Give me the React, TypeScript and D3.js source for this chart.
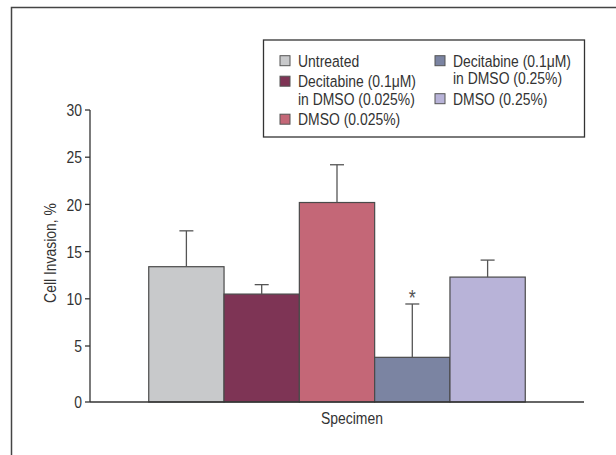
import React from 'react'
import { scaleBand, scaleLinear } from 'd3'

const categories = [
  'Untreated',
  'Decitabine (0.1μM) in DMSO (0.025%)',
  'DMSO (0.025%)',
  'Decitabine (0.1μM) in DMSO (0.25%)',
  'DMSO (0.25%)',
]
const means = [13.4, 10.5, 20.2, 3.8, 12.3]
const errTops = [17.2, 11.5, 24.2, 9.45, 14.1]
const colors = ['#c8c9cb', '#7e3455', '#c46777', '#7b84a2', '#b8b3d8']
const yTicks = [0, 5, 10, 15, 20, 25, 30]
const starred = [false, false, false, true, false]

// legend: label lines per item, and which column it sits in
const legendLines = [
  ['Untreated'],
  ['Decitabine (0.1μM)', 'in DMSO (0.025%)'],
  ['DMSO (0.025%)'],
  ['Decitabine (0.1μM)', 'in DMSO (0.25%)'],
  ['DMSO (0.25%)'],
]
const legendCol = [0, 0, 0, 1, 1]

const FONT = '"Liberation Sans", Arial, sans-serif'
const SX = 0.82 // fake a condensed face

function Txt({ x, y, size = 17, anchor = 'start', rotate = 0, dy = '0', fill = '#333', children }: any) {
  return (
    <text
      transform={`translate(${x},${y}) rotate(${rotate}) scale(${SX},1)`}
      textAnchor={anchor}
      dy={dy}
      fontSize={size}
      fill={fill}
      fontFamily={FONT}
    >
      {children}
    </text>
  )
}

export default function App() {
  const width = 616,
    height = 455
  const left = 90,
    right = 584,
    top = 110,
    base = 402

  const x = scaleBand().domain(categories).range([left, right]).paddingInner(0).paddingOuter(0.78)
  const y = scaleLinear().domain([5, 30]).range([346, top])
  const yPos = (v: number) => (v === 0 ? base : y(v))

  // legend layout
  const lineH = 17.5
  const gap = 3
  const colX = [280, 435]
  const rowY = [0, 0]
  const legendItems = legendLines.map((lines, i) => {
    const c = legendCol[i]
    const y0 = 60.7 + rowY[c]
    rowY[c] += lines.length * lineH + gap
    return { lines, c, y0, color: colors[i] }
  })

  return (
    <svg width={width} height={height} style={{ position: 'absolute', left: 0, top: 0, background: '#fff' }}>
      {/* frame */}
      <path d={`M11.5,${height} V7.5 H${width}`} fill="none" stroke="#444" strokeWidth={1.5} />

      {/* bars */}
      {categories.map((c, i) => (
        <rect
          key={c}
          x={x(c)}
          y={yPos(means[i])}
          width={x.bandwidth()}
          height={base - yPos(means[i])}
          fill={colors[i]}
          stroke="#4a4a4a"
          strokeWidth={1.2}
        />
      ))}

      {/* error bars */}
      {categories.map((c, i) => {
        const cx = (x(c) as number) + x.bandwidth() / 2
        return (
          <g key={'e' + c} stroke="#555" strokeWidth={1.3}>
            <line x1={cx} x2={cx} y1={yPos(means[i])} y2={yPos(errTops[i])} />
            <line x1={cx - 7} x2={cx + 7} y1={yPos(errTops[i])} y2={yPos(errTops[i])} />
          </g>
        )
      })}
      {categories.map((c, i) =>
        starred[i] ? (
          <Txt key={'s' + c} x={(x(c) as number) + x.bandwidth() / 2} y={yPos(errTops[i]) + 1} anchor="middle" size={22} fill="#555">
            *
          </Txt>
        ) : null
      )}

      {/* axes */}
      <line x1={left} x2={right} y1={base} y2={base} stroke="#333" strokeWidth={1.3} />
      <line x1={left} x2={left} y1={top} y2={base} stroke="#333" strokeWidth={1.3} />
      {yTicks.map(t => (
        <g key={t}>
          <line x1={left - 5} x2={left} y1={yPos(t)} y2={yPos(t)} stroke="#333" strokeWidth={1.3} />
          <Txt x={left - 8} y={yPos(t)} dy="0.36em" anchor="end">
            {t}
          </Txt>
        </g>
      ))}
      <Txt x={50} y={253} rotate={-90} anchor="middle" dy="0.36em">
        Cell Invasion, %
      </Txt>
      <Txt x={352} y={424} anchor="middle" size={17}>
        Specimen
      </Txt>

      {/* legend */}
      <rect x={263.5} y={40} width={321} height={97} fill="#fff" stroke="#333" strokeWidth={1.3} />
      {legendItems.map((it, i) => (
        <g key={'l' + i}>
          <rect x={colX[it.c]} y={it.y0 - 5} width={10} height={10} fill={it.color} stroke="#555" strokeWidth={1} />
          {it.lines.map((ln, j) => (
            <Txt key={j} x={colX[it.c] + 18} y={it.y0 + j * lineH} dy="0.36em">
              {ln}
            </Txt>
          ))}
        </g>
      ))}
    </svg>
  )
}
